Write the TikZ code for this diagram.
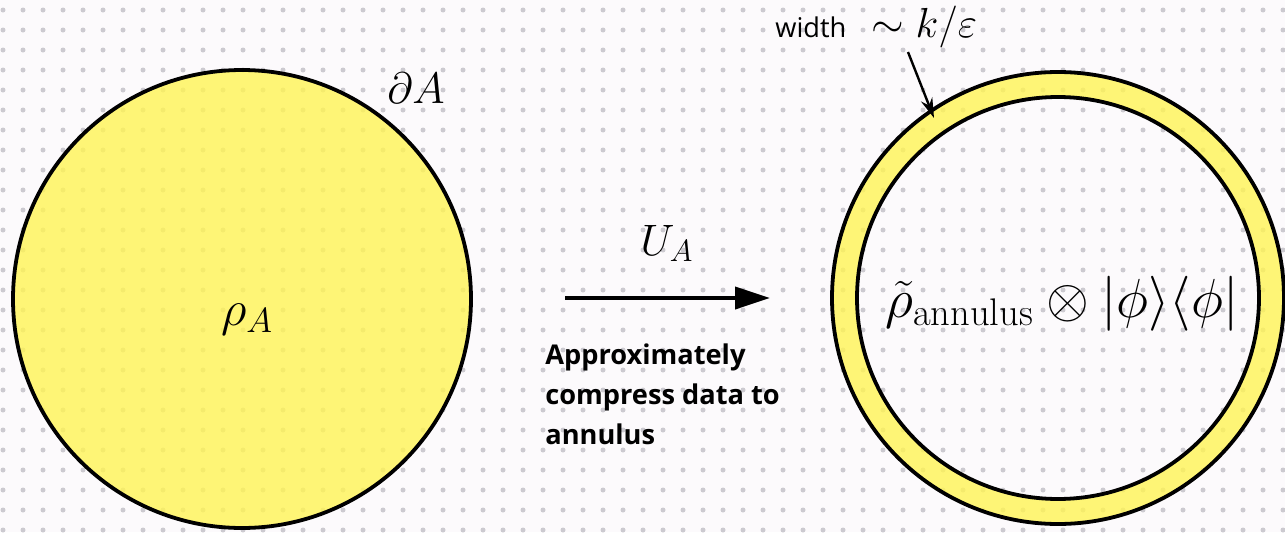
\RequirePackage{fix-cm}
\documentclass[tikz,border=0pt]{standalone}
\usepackage{amsmath}
\usepackage{amssymb}
\usepackage{fontspec}
\setsansfont{Open Sans}
\usepackage{tikz}
\usetikzlibrary{
    arrows.meta,
    calc
}

\definecolor{paper}{RGB}{252,250,252}
\definecolor{dotgray}{RGB}{204,202,208}
\definecolor{regionyellow}{RGB}{255,244,85}

\tikzset{
    region/.style={line width=1.9pt, draw=black, fill=regionyellow, fill opacity=0.8, draw opacity=1},
    bigmath/.style={inner sep=0pt, font=\fontsize{22}{26}\selectfont},
    capt/.style={inner sep=0pt, align=left, font=\sffamily\bfseries\fontsize{13.6}{20}\selectfont}
}

\begin{document}
\begin{tikzpicture}[x=0.5pt, y=0.5pt]

% Paper and dot grid
\fill[paper] (0,0) rectangle (1285,532);
\useasboundingbox (0,0) rectangle (1285,532);
\foreach \i in {0,...,64}
    \foreach \j in {0,...,26}
        \fill[dotgray] (3+20*\i,522-20*\j) circle[radius=1.25pt];

% Region A (left disc)
\draw[region] (242,233) circle[radius=114.5pt];

% Annulus (right ring)
\fill[regionyellow, fill opacity=0.8, even odd rule]
    (1058,234) circle[radius=113pt] (1058,234) circle[radius=100.5pt];
\draw[line width=1.9pt] (1058,234) circle[radius=113pt];
\draw[line width=1.9pt] (1058,234) circle[radius=100.5pt];

% Labels on the disc
\node[bigmath, anchor=base, font=\fontsize{25}{30}\selectfont] (rhoA) at (247,207) {$\rho_A$};
\node[bigmath, anchor=base west] (bdryA) at (387,429) {$\partial A$};

% Map between the two
\coordinate (mapstart) at (565,234);
\coordinate (mapend) at (770,234);
\draw[line width=2pt, -{Triangle[length=17.5pt, width=11pt]}] (mapstart) -- (mapend);
\node[bigmath, anchor=base] (UA) at (667,277) {$U_A$};
\node[capt, anchor=north west] (caption) at (545,189)
    {Approximately\\compress data to\\annulus};

% State on the annulus
\node[inner sep=0pt, anchor=base west, font=\fontsize{27.5}{32}\selectfont] (rhoann) at (885,215)
    {$\tilde{\rho}_{\mathrm{annulus}} \otimes |\phi\rangle\langle\phi|$};

% Width of the ring
\node[inner sep=0pt, anchor=base west, font=\sffamily\fontsize{13.6}{16}\selectfont] (widthlbl) at (775,495) {width};
\node[bigmath, anchor=base west, font=\fontsize{21}{25}\selectfont] (scale) at (871,495) {$\sim k/\varepsilon$};
\coordinate (widthtail) at (908,480);
\coordinate (widthtip) at (934,414);
\draw[line width=1.2pt, -{Stealth[length=10pt, width=6pt]}] (widthtail) -- (widthtip);

\end{tikzpicture}
\end{document}
